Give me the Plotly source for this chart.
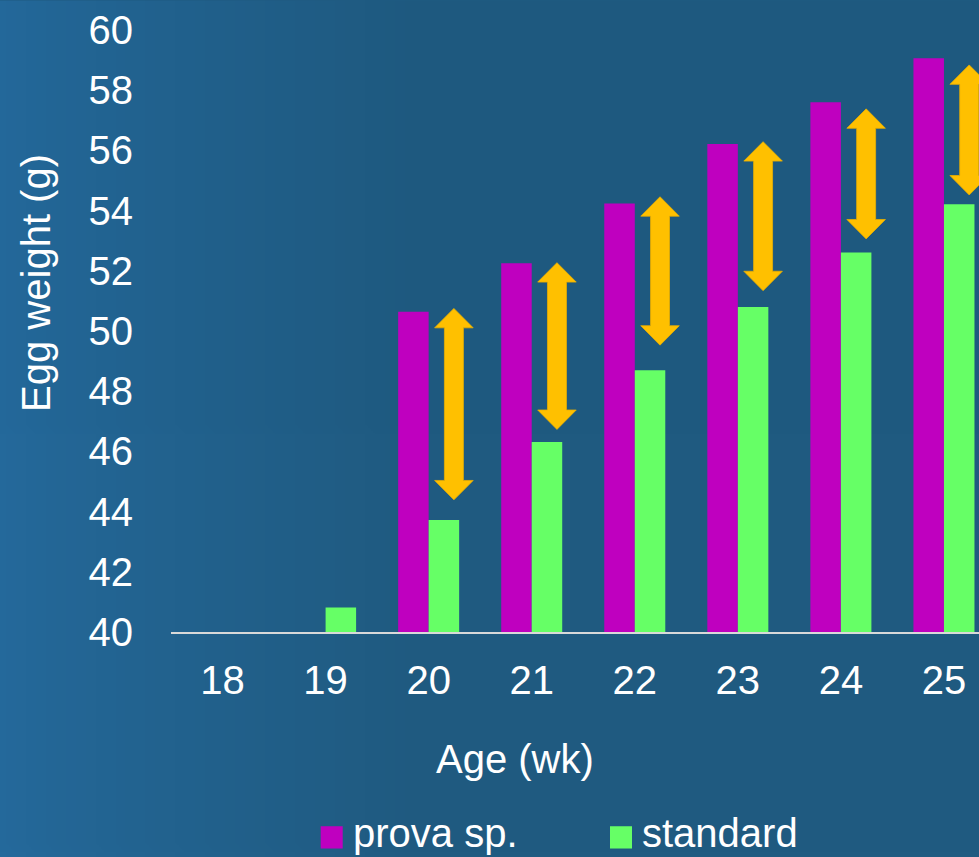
import base64, zlib, struct
import plotly.graph_objects as go

# ---- data ----
ages = [18, 19, 20, 21, 22, 23, 24, 25]
age_labels = ["18", "19", "20", "21", "22", "23", "24", "25"]
prova = [None, None, 50.64, 52.25, 54.24, 56.21, 57.60, 59.06]
standard = [None, 40.81, 43.72, 46.31, 48.70, 50.80, 52.61, 54.21]
arrow_ages = [20, 21, 22, 23, 24, 25]
arrow_top = [50.75, 52.27, 54.46, 56.29, 57.38, 58.84]
arrow_bottom = [44.39, 46.73, 49.53, 51.34, 53.06, 54.52]
y_ticks = [40, 42, 44, 46, 48, 50, 52, 54, 56, 58, 60]

# ---- geometry ----
W_FIG, H_FIG = 979, 857
ML, MR, MT, MB = 171, 0, 29.5, 225.3
PW = W_FIG - ML - MR
PH = H_FIG - MT - MB


def px_x(px):
    return (px - ML) / PW


def px_y(py):
    return (H_FIG - MB - py) / PH


# ---- background gradient image (generated locally) ----
def make_bg():
    W, H = 98, 86
    left = (35, 104, 154)
    right = (30, 89, 127)
    raw = bytearray()
    for j in range(H):
        raw.append(0)
        for i in range(W):
            x = i / (W - 1) * W_FIG
            t = min(1.0, x / 420.0) ** 0.8
            v = j / (H - 1)
            c = [round(left[k] + (right[k] - left[k]) * t) for k in range(3)]
            c = [max(0, min(255, int(cc + 2 * v))) for cc in c]
            raw.extend(c)

    def chunk(tag, data):
        return (struct.pack('>I', len(data)) + tag + data +
                struct.pack('>I', zlib.crc32(tag + data) & 0xffffffff))

    png = (b'\x89PNG\r\n\x1a\n' +
           chunk(b'IHDR', struct.pack('>IIBBBBB', W, H, 8, 2, 0, 0, 0)) +
           chunk(b'IDAT', zlib.compress(bytes(raw), 9)) +
           chunk(b'IEND', b''))
    return 'data:image/png;base64,' + base64.b64encode(png).decode()


FONT = "Liberation Sans, Arial, sans-serif"
MAGENTA = "#BF00BF"
GREEN = "#66FF66"
GOLD = "#FFC000"

fig = go.Figure()
fig.add_bar(x=ages, y=prova, name="prova sp.", marker_color=MAGENTA,
            marker_line_width=0, showlegend=False)
fig.add_bar(x=ages, y=standard, name="standard", marker_color=GREEN,
            marker_line_width=0, showlegend=False)

# double-headed arrows
OFF = 0.245   # horizontal offset from category centre
SW = 0.092    # half shaft width (x units)
HW = 0.187    # half head width (x units)
HL = 0.645    # head length (y units)
shapes = []
for a, top, bot in zip(arrow_ages, arrow_top, arrow_bottom):
    cx = a + OFF
    pts = [(cx, top), (cx + HW, top - HL), (cx + SW, top - HL),
           (cx + SW, bot + HL), (cx + HW, bot + HL), (cx, bot),
           (cx - HW, bot + HL), (cx - SW, bot + HL), (cx - SW, top - HL),
           (cx - HW, top - HL)]
    path = "M " + " L ".join(f"{x:.4f},{y:.4f}" for x, y in pts) + " Z"
    shapes.append(dict(type="path", xref="x", yref="y", path=path,
                       fillcolor=GOLD, line=dict(color="#E8AE00", width=0.8),
                       layer="above"))

# manual legend squares
for x0, col in [(320.7, MAGENTA), (610.0, GREEN)]:
    shapes.append(dict(type="rect", xref="paper", yref="paper",
                       x0=px_x(x0), x1=px_x(x0 + 22), y0=px_y(848.3), y1=px_y(826),
                       fillcolor=col, line=dict(width=0)))

annotations = [
    dict(text="Egg weight (g)", textangle=-90, xref="paper", yref="paper",
         x=px_x(36), y=px_y(282.5), xanchor="center", yanchor="middle",
         showarrow=False, font=dict(size=40, color="white", family=FONT)),
    dict(text="Age (wk)", xref="paper", yref="paper",
         x=px_x(514.7), y=px_y(759), xanchor="center", yanchor="middle",
         showarrow=False, font=dict(size=40, color="white", family=FONT)),
    dict(text="prova sp.", xref="paper", yref="paper",
         x=px_x(351), y=px_y(833), xanchor="left", yanchor="middle",
         showarrow=False, font=dict(size=40, color="white", family=FONT)),
    dict(text="standard", xref="paper", yref="paper",
         x=px_x(640), y=px_y(833), xanchor="left", yanchor="middle",
         showarrow=False, font=dict(size=40, color="white", family=FONT)),
]

fig.update_layout(
    width=W_FIG, height=H_FIG, autosize=False,
    margin=dict(l=ML, r=MR, t=MT, b=MB, pad=0),
    paper_bgcolor="#1F5B82", plot_bgcolor="rgba(0,0,0,0)",
    barmode="group", bargap=0.408, bargroupgap=0,
    font=dict(family=FONT, color="white", size=40),
    shapes=shapes, annotations=annotations,
    images=[dict(source=make_bg(), xref="paper", yref="paper",
                 x=px_x(0), y=px_y(0), sizex=W_FIG / PW, sizey=H_FIG / PH,
                 sizing="stretch", xanchor="left", yanchor="top",
                 layer="below")],
    xaxis=dict(range=[17.5, 25.34], tickvals=ages, ticktext=age_labels,
               tickfont=dict(size=40, color="white", family=FONT),
               showline=True, linecolor="#D9D9D9", linewidth=1.5,
               showgrid=False, zeroline=False, ticks="outside", ticklen=12,
               tickcolor="rgba(0,0,0,0)", fixedrange=True),
    yaxis=dict(range=[40, 60], tickvals=y_ticks,
               tickfont=dict(size=40, color="white", family=FONT),
               showline=False, showgrid=False, zeroline=False,
               ticks="outside", ticklen=29, tickcolor="rgba(0,0,0,0)",
               fixedrange=True),
)

fig.write_html(
    "out.html",
    config={"displayModeBar": False},
    post_script="document.body.style.margin='0';document.body.style.overflow='hidden';",
)
